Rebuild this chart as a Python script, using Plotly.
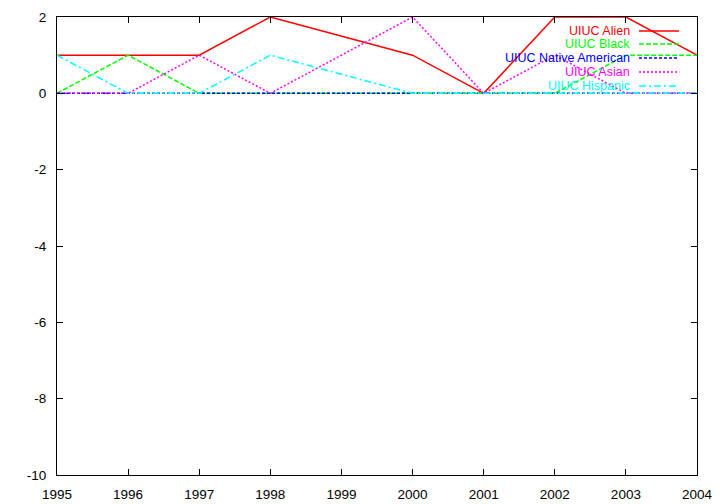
import plotly.graph_objects as go

years = [1995, 1996, 1997, 1998, 2000, 2001, 2002, 2003, 2004]
alien = [1, 1, 1, 2, 1, 0, 2, 2, 1]
black = [0, 1, 0, 0, 0, 0, 0, 1, 1]
native = [0, 0, 0, 0, 0, 0, 0, 0, 0]
asian = [0, 0, 1, 0, 2, 0, 1, 0, 0]
hispanic = [1, 0, 0, 1, 0, 0, 0, 0, 0]

names = ["UIUC Alien", "UIUC Black", "UIUC Native American", "UIUC Asian", "UIUC Hispanic"]
series = [alien, black, native, asian, hispanic]
colors = ["#ff0000", "#00ff00", "#0000ff", "#ff00ff", "#00ffff"]
dashes = ["solid", "5px,2px", "3px,2px", "2px,2px", "7px,3px,2px,3px"]
x_ticks = list(range(1995, 2005))
y_ticks = list(range(-10, 3, 2))
y_ticktext = [str(v) for v in y_ticks]

fig = go.Figure()
for n, s, c, d in zip(names, series, colors, dashes):
    fig.add_trace(go.Scatter(x=years, y=s, mode="lines", name=n,
                             line=dict(color=c, width=1.5, dash=d)))

W, H = 720, 504
L, R, T, B = 57, 23, 17, 29
pw, ph = W - L - R, H - T - B
row_y = [31, 44, 58, 72, 86]
annotations = []
shapes = []
for i, (n, c, d) in enumerate(zip(names, colors, dashes)):
    yp = 1 - (row_y[i] - T) / ph
    annotations.append(dict(x=(631 - L) / pw, y=yp, xref="paper", yref="paper",
                            text=n, showarrow=False, xanchor="right", yanchor="middle",
                            font=dict(color=c, size=12.5, family="Liberation Sans"),
                            borderpad=0))
    shapes.append(dict(type="line", xref="paper", yref="paper",
                       x0=(639 - L) / pw, x1=(679 - L) / pw, y0=yp, y1=yp,
                       line=dict(color=c, width=1.5, dash=d)))

axis_common = dict(showline=True, linecolor="black", linewidth=1, mirror="ticks",
                   ticks="inside", ticklen=6, tickcolor="black", showgrid=False,
                   zeroline=False, automargin=False, ticklabelstandoff=7,
                   tickfont=dict(family="Liberation Sans", size=13.5, color="black"))

fig.update_layout(
    width=W, height=H, showlegend=False,
    margin=dict(l=L, r=R, t=T, b=B),
    plot_bgcolor="white", paper_bgcolor="white",
    xaxis=dict(range=[1995, 2004], tickvals=x_ticks, **axis_common),
    yaxis=dict(range=[-10, 2], tickvals=y_ticks, ticktext=y_ticktext, **axis_common),
    annotations=annotations, shapes=shapes,
)
fig.write_html("out.html", config={"displayModeBar": False},
               post_script="document.body.style.margin='0';document.body.style.overflow='hidden';")
